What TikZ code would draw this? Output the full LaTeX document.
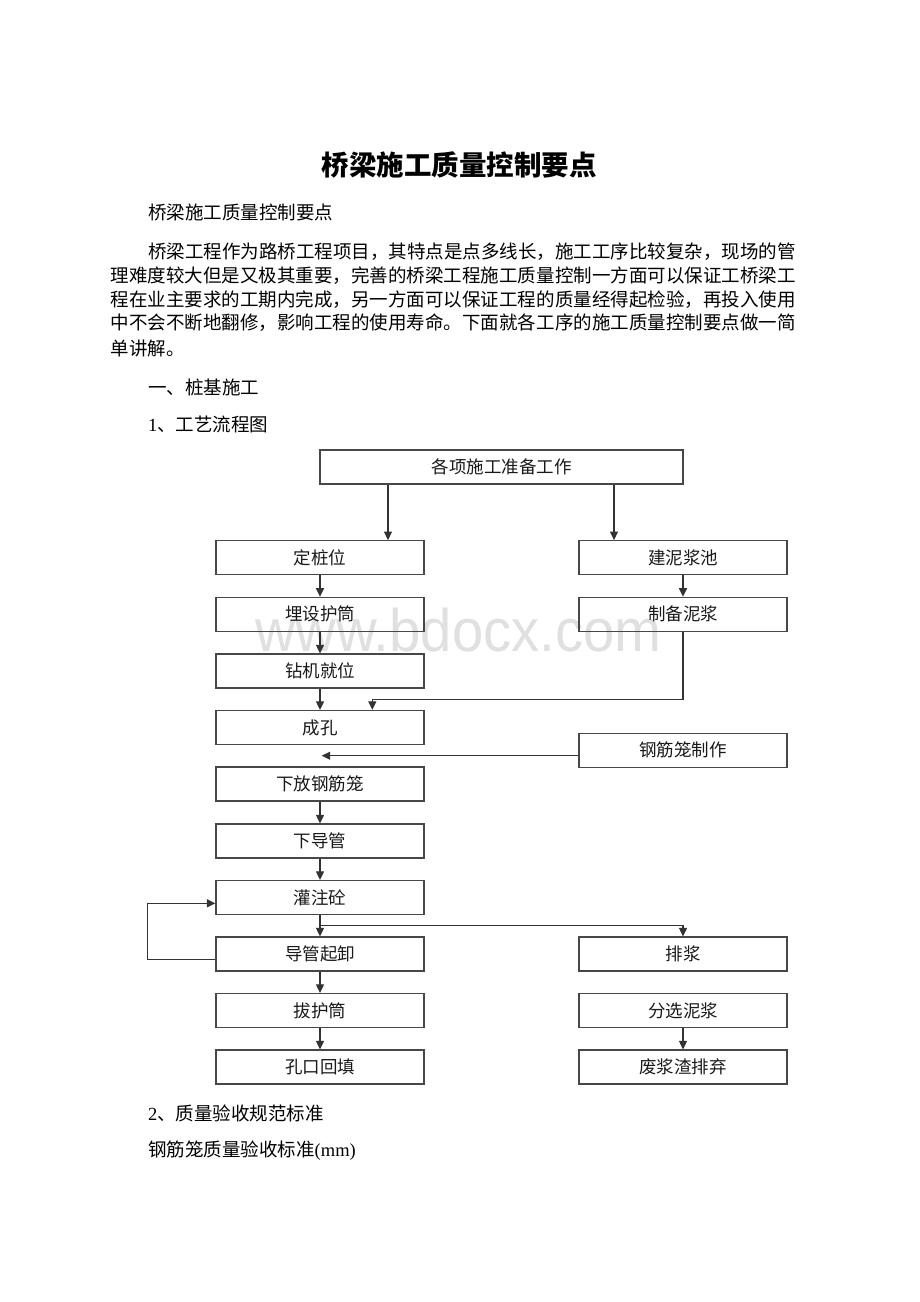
\documentclass[tikz,border=0pt]{standalone}
\usepackage{fontspec}
\usepackage{graphicx}
\setmainfont{Liberation Serif}
\newfontfamily\songti{Noto Sans CJK SC}
\newfontfamily\heiti{Noto Sans CJK SC}
\newfontfamily\wmfont{Liberation Sans}
\usetikzlibrary{arrows.meta}
\ExplSyntaxOn
\NewDocumentCommand\spreadline{mm}{\makebox[#1][s]{\tl_map_inline:nn{#2}{##1\hskip 0pt plus 1fil}\unskip}}
\ExplSyntaxOff
\tikzset{
  box/.style={draw=black!72, line width=1.2pt, minimum width=208pt, minimum height=34pt, inner sep=0pt,
    font=\heiti\fontsize{17.5pt}{17.5pt}\selectfont, text=black!90},
  arr/.style={draw=black!80, line width=1.1pt, -{Triangle[length=8.5pt,width=8pt]}},
  para/.style={anchor=west, inner sep=0pt, font=\songti\fontsize{18.5pt}{18.5pt}\selectfont, text=black},
}
\begin{document}
\begin{tikzpicture}[x=1pt,y=-1pt]
\useasboundingbox (0,0) rectangle (920,1302);
\fill[white] (0,0) rectangle (920,1302);

% watermark
\node[anchor=base west, inner sep=0pt, text=black!12, font=\wmfont\fontsize{60pt}{60pt}\selectfont] (wm) at (255,651.7) {\scalebox{0.937}[1]{www.bdocx.com}};

% texts
\node[inner sep=0pt, font=\songti\bfseries\fontsize{27.5pt}{27.5pt}\selectfont] (title) at (459.2,165) {桥梁施工质量控制要点};
\node[para] (sub) at (148,213) {桥梁施工质量控制要点};
\node[para] (p1) at (148,252) {\spreadline{647pt}{桥梁工程作为路桥工程项目，其特点是点多线长，施工工序比较复杂，现场的管}};
\node[para] (p2) at (110.5,276) {\spreadline{685pt}{理难度较大但是又极其重要，完善的桥梁工程施工质量控制一方面可以保证工桥梁工}};
\node[para] (p3) at (110.5,300) {\spreadline{685pt}{程在业主要求的工期内完成，另一方面可以保证工程的质量经得起检验，再投入使用}};
\node[para] (p4) at (110.5,323) {\spreadline{685pt}{中不会不断地翻修，影响工程的使用寿命。下面就各工序的施工质量控制要点做一简}};
\node[para] (p5) at (110.5,348) {单讲解。};
\node[para] (h1) at (148,387) {一、桩基施工};
\node[para] (h2) at (148,424) {{\rmfamily 1}、工艺流程图};
\node[para] (h3) at (148,1113) {{\rmfamily 2}、质量验收规范标准};
\node[para] (h4) at (148,1151) {钢筋笼质量验收标准{\rmfamily (mm)}};

% boxes
\node[box, minimum width=363pt] (top) at (501.5,467) {各项施工准备工作};
\node[box] (zzw) at (320,557.7) {定桩位};
\node[box] (mshc) at (320,614.3) {埋设护筒};
\node[box] (zjjw) at (320,671) {钻机就位};
\node[box] (ck) at (320,727.5) {成孔};
\node[box] (xfgjl) at (320,784) {下放钢筋笼};
\node[box] (xdg) at (320,841) {下导管};
\node[box] (gzt) at (320,897.5) {灌注砼};
\node[box] (dgqx) at (320,954) {导管起卸};
\node[box] (bhc) at (320,1010.5) {拔护筒};
\node[box] (kkht) at (320,1067) {孔口回填};
\node[box] (jnjc) at (683,557.7) {建泥浆池};
\node[box] (zbnj) at (683,614.3) {制备泥浆};
\node[box] (gjlzz) at (683,750.3) {钢筋笼制作};
\node[box] (pj) at (683,954) {排浆};
\node[box] (fxnj) at (683,1010.5) {分选泥浆};
\node[box] (fjzpq) at (683,1067) {废浆渣排弃};

% connectors
\coordinate (xa) at (388,0);
\coordinate (xb) at (614,0);
\draw[arr] (top.south -| xa) -- (zzw.north -| xa);
\draw[arr] (top.south -| xb) -- (jnjc.north -| xb);
\draw[arr] (zzw.south) -- (mshc.north);
\draw[arr] (mshc.south) -- (zjjw.north);
\draw[arr] (zjjw.south) -- (ck.north);
\draw[arr] (jnjc.south) -- (zbnj.north);
\coordinate (mj1) at (683,699.3);
\coordinate (mj2) at (372.3,699.3);
\draw[arr] (zbnj.south) -- (mj1) -- (mj2) -- (ck.north -| mj2);
\coordinate (gjend) at (321.7,755.7);
\draw[arr] (gjlzz.west |- gjend) -- (gjend);
\draw[arr] (xfgjl.south) -- (xdg.north);
\draw[arr] (xdg.south) -- (gzt.north);
\draw[arr] (gzt.south) -- (dgqx.north);
\coordinate (split) at (320,925.7);
\draw[arr] (split) -- (split -| pj.north) -- (pj.north);
\coordinate (lp1) at (147.3,959.3);
\coordinate (lp2) at (147.3,903.3);
\draw[arr] (dgqx.west |- lp1) -- (lp1) -- (lp2) -- (gzt.west |- lp2);
\draw[arr] (dgqx.south) -- (bhc.north);
\draw[arr] (bhc.south) -- (kkht.north);
\draw[arr] (fxnj.south) -- (fjzpq.north);
\end{tikzpicture}
\end{document}
